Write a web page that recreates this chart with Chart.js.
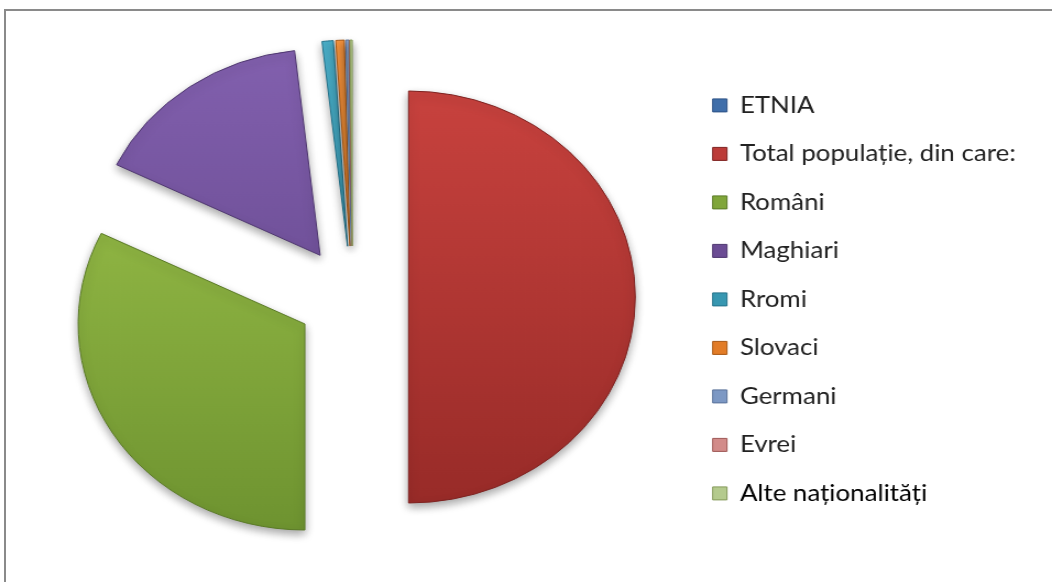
<!DOCTYPE html>
<html>
<head>
<meta charset="utf-8">
<script src="https://cdn.jsdelivr.net/npm/chart.js@4.4.1/dist/chart.umd.min.js"></script>
<style>
  html, body { margin: 0; padding: 0; background: #ffffff; overflow: hidden; }
  #frame { position: absolute; left: 4px; top: 9px; width: 1200px; height: 800px;
           border-left: 2px solid #8a8a8a; border-top: 2px solid #8a8a8a; box-sizing: border-box; }
  #wrap { position: absolute; left: 0; top: 0; width: 956px; height: 582px;
          transform: scaleX(1.1004); transform-origin: 0 0; }
</style>
</head>
<body>
<div id="frame"></div>
<div id="wrap"><canvas id="c" width="956" height="582"></canvas></div>
<script>
// ---- data ----
const categories = ['ETNIA', 'Total populație, din care:', 'Români', 'Maghiari', 'Rromi', 'Slovaci', 'Germani', 'Evrei', 'Alte naționalități'];
const values = [0, 100, 64.5, 31.9, 1.6, 1.2, 0.45, 0.05, 0.3];

// ---- styles ----
const topColors    = ['#4F81BD', '#C8423E', '#9BC14A', '#8260AE', '#4BB0CA', '#F8963F', '#8FA9D2', '#DA9896', '#C2D69A'];
const bottomColors = ['#3A679E', '#982B28', '#6E9330', '#5F4386', '#2E8AA3', '#CF6C1C', '#6E88B4', '#BB6F6C', '#9DB56C'];
const edgeColors   = ['#2D5286', '#7E2220', '#5A7A26', '#4E366F', '#24728A', '#A85814', '#5A729A', '#9E5855', '#84995A'];
const legendColors = ['#3F6EAA', '#BC3B38', '#80A63A', '#6B4C94', '#3797B1', '#E27C27', '#7C98C4', '#D28B89', '#B4CA8D'];

const R = 206;
const EXPLODE = 51;

// Explode every slice outward along its mid-angle (plain translation, no radius growth)
const baseArcDraw = Chart.ArcElement.prototype.draw;
Chart.ArcElement.prototype.draw = function (ctx) {
  const h = (this.startAngle + this.endAngle) / 2;
  ctx.save();
  ctx.translate(Math.cos(h) * EXPLODE, Math.sin(h) * EXPLODE);
  baseArcDraw.call(this, ctx);
  ctx.restore();
};

function grad(context) {
  const chart = context.chart;
  const ca = chart.chartArea;
  const i = context.dataIndex;
  if (!ca) return topColors[i];
  const cy = (ca.top + ca.bottom) / 2;
  const g = chart.ctx.createLinearGradient(0, cy - R, 0, cy + R);
  g.addColorStop(0, topColors[i]);
  g.addColorStop(1, bottomColors[i]);
  return g;
}

const shadowPlugin = {
  id: 'softShadow',
  beforeDatasetsDraw(chart) {
    const ctx = chart.ctx;
    ctx.save();
    ctx.shadowColor = 'rgba(0,0,0,0.35)';
    ctx.shadowBlur = 9;
    ctx.shadowOffsetX = 0;
    ctx.shadowOffsetY = 4;
  },
  afterDatasetsDraw(chart) {
    chart.ctx.restore();
  }
};

new Chart(document.getElementById('c'), {
  type: 'pie',
  data: {
    labels: categories,
    datasets: [{
      data: values,
      radius: R,
      backgroundColor: grad,
      borderColor: (ctx) => edgeColors[ctx.dataIndex],
      borderWidth: (ctx) => (values[ctx.dataIndex] > 0 ? 1 : 0),
      offset: 0,
      hoverOffset: 0
    }]
  },
  options: {
    responsive: false,
    animation: false,
    layout: { padding: { left: 18, right: 23, top: 12, bottom: 0 } },
    plugins: {
      tooltip: { enabled: false },
      legend: {
        position: 'right',
        align: 'center',
        title: { display: true, text: ' ', padding: 0, font: { size: 4, lineHeight: 1.2 } },
        labels: {
          boxWidth: 13,
          boxHeight: 13,
          padding: 25,
          color: '#222222',
          font: { family: 'Lato', size: 23.5 },
          generateLabels(chart) {
            return categories.map((t, i) => ({
              text: t,
              fillStyle: legendColors[i],
              strokeStyle: edgeColors[i],
              lineWidth: 1,
              fontColor: i === categories.length - 1 ? '#000000' : '#222222',
              hidden: false,
              index: i
            }));
          }
        }
      }
    }
  },
  plugins: [shadowPlugin]
});
</script>
</body>
</html>
